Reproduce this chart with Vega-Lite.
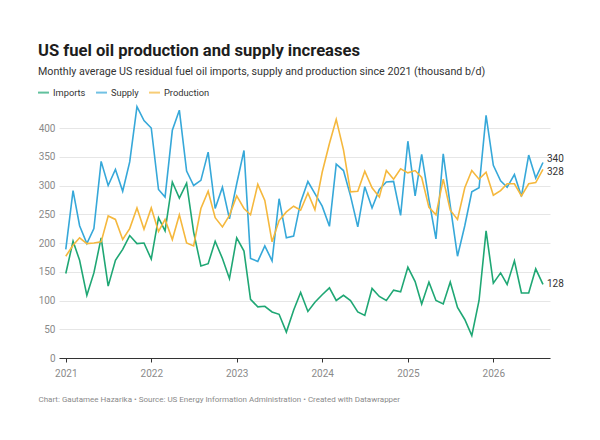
{
  "$schema": "https://vega.github.io/schema/vega-lite/v6.json",
  "autosize": {"type": "none"},
  "width": 491,
  "height": 253,
  "padding": {"left": 59, "top": 105, "right": 50, "bottom": 82},
  "background": "white",
  "config": {
    "font": "Roboto",
    "view": {"stroke": null}
  },
  "title": {
    "text": "US fuel oil production and supply increases",
    "subtitle": "Monthly average US residual fuel oil imports, supply and production since 2021 (thousand b/d)",
    "anchor": "start",
    "frame": "group",
    "dx": -21,
    "offset": 9,
    "fontSize": 16.6,
    "fontWeight": 700,
    "color": "#1d1d1d",
    "subtitleFontSize": 10.7,
    "subtitleColor": "#333333",
    "subtitlePadding": 8
  },
  "data": {
    "values": [
      {"date": "2021/01/01", "Imports": 147, "Supply": 189, "Production": 177},
      {"date": "2021/02/01", "Imports": 203, "Supply": 291, "Production": 196},
      {"date": "2021/03/01", "Imports": 170, "Supply": 230, "Production": 209},
      {"date": "2021/04/01", "Imports": 109, "Supply": 199, "Production": 199},
      {"date": "2021/05/01", "Imports": 148, "Supply": 225, "Production": 200},
      {"date": "2021/06/01", "Imports": 209, "Supply": 342, "Production": 202},
      {"date": "2021/07/01", "Imports": 125, "Supply": 300, "Production": 247},
      {"date": "2021/08/01", "Imports": 170, "Supply": 328, "Production": 241},
      {"date": "2021/09/01", "Imports": 189, "Supply": 290, "Production": 206},
      {"date": "2021/10/01", "Imports": 213, "Supply": 341, "Production": 225},
      {"date": "2021/11/01", "Imports": 199, "Supply": 437, "Production": 261},
      {"date": "2021/12/01", "Imports": 200, "Supply": 413, "Production": 224},
      {"date": "2022/01/01", "Imports": 172, "Supply": 400, "Production": 261},
      {"date": "2022/02/01", "Imports": 244, "Supply": 293, "Production": 220},
      {"date": "2022/03/01", "Imports": 221, "Supply": 280, "Production": 241},
      {"date": "2022/04/01", "Imports": 306, "Supply": 396, "Production": 206},
      {"date": "2022/05/01", "Imports": 278, "Supply": 431, "Production": 249},
      {"date": "2022/06/01", "Imports": 304, "Supply": 325, "Production": 200},
      {"date": "2022/07/01", "Imports": 219, "Supply": 300, "Production": 195},
      {"date": "2022/08/01", "Imports": 160, "Supply": 309, "Production": 260},
      {"date": "2022/09/01", "Imports": 164, "Supply": 358, "Production": 290},
      {"date": "2022/10/01", "Imports": 203, "Supply": 260, "Production": 244},
      {"date": "2022/11/01", "Imports": 173, "Supply": 297, "Production": 228},
      {"date": "2022/12/01", "Imports": 138, "Supply": 242, "Production": 248},
      {"date": "2023/01/01", "Imports": 209, "Supply": 303, "Production": 282},
      {"date": "2023/02/01", "Imports": 186, "Supply": 361, "Production": 260},
      {"date": "2023/03/01", "Imports": 102, "Supply": 173, "Production": 249},
      {"date": "2023/04/01", "Imports": 89, "Supply": 168, "Production": 302},
      {"date": "2023/05/01", "Imports": 90, "Supply": 195, "Production": 274},
      {"date": "2023/06/01", "Imports": 80, "Supply": 169, "Production": 202},
      {"date": "2023/07/01", "Imports": 76, "Supply": 277, "Production": 239},
      {"date": "2023/08/01", "Imports": 45, "Supply": 209, "Production": 254},
      {"date": "2023/09/01", "Imports": 83, "Supply": 212, "Production": 264},
      {"date": "2023/10/01", "Imports": 114, "Supply": 271, "Production": 257},
      {"date": "2023/11/01", "Imports": 81, "Supply": 307, "Production": 287},
      {"date": "2023/12/01", "Imports": 97, "Supply": 286, "Production": 258},
      {"date": "2024/01/01", "Imports": 110, "Supply": 264, "Production": 323},
      {"date": "2024/02/01", "Imports": 122, "Supply": 229, "Production": 373},
      {"date": "2024/03/01", "Imports": 100, "Supply": 337, "Production": 415},
      {"date": "2024/04/01", "Imports": 109, "Supply": 326, "Production": 362},
      {"date": "2024/05/01", "Imports": 100, "Supply": 282, "Production": 289},
      {"date": "2024/06/01", "Imports": 80, "Supply": 228, "Production": 290},
      {"date": "2024/07/01", "Imports": 74, "Supply": 298, "Production": 325},
      {"date": "2024/08/01", "Imports": 121, "Supply": 261, "Production": 296},
      {"date": "2024/09/01", "Imports": 107, "Supply": 293, "Production": 280},
      {"date": "2024/10/01", "Imports": 100, "Supply": 306, "Production": 326},
      {"date": "2024/11/01", "Imports": 118, "Supply": 307, "Production": 311},
      {"date": "2024/12/01", "Imports": 115, "Supply": 248, "Production": 329},
      {"date": "2025/01/01", "Imports": 158, "Supply": 377, "Production": 322},
      {"date": "2025/02/01", "Imports": 133, "Supply": 282, "Production": 326},
      {"date": "2025/03/01", "Imports": 94, "Supply": 354, "Production": 314},
      {"date": "2025/04/01", "Imports": 132, "Supply": 275, "Production": 262},
      {"date": "2025/05/01", "Imports": 100, "Supply": 207, "Production": 249},
      {"date": "2025/06/01", "Imports": 94, "Supply": 355, "Production": 311},
      {"date": "2025/07/01", "Imports": 132, "Supply": 265, "Production": 257},
      {"date": "2025/08/01", "Imports": 88, "Supply": 177, "Production": 241},
      {"date": "2025/09/01", "Imports": 67, "Supply": 230, "Production": 296},
      {"date": "2025/10/01", "Imports": 39, "Supply": 289, "Production": 326},
      {"date": "2025/11/01", "Imports": 100, "Supply": 296, "Production": 311},
      {"date": "2025/12/01", "Imports": 221, "Supply": 422, "Production": 323},
      {"date": "2026/01/01", "Imports": 130, "Supply": 335, "Production": 283},
      {"date": "2026/02/01", "Imports": 148, "Supply": 308, "Production": 291},
      {"date": "2026/03/01", "Imports": 128, "Supply": 297, "Production": 303},
      {"date": "2026/04/01", "Imports": 169, "Supply": 319, "Production": 303},
      {"date": "2026/05/01", "Imports": 113, "Supply": 281, "Production": 282},
      {"date": "2026/06/01", "Imports": 113, "Supply": 353, "Production": 303},
      {"date": "2026/07/01", "Imports": 155, "Supply": 313, "Production": 305},
      {"date": "2026/08/01", "Imports": 128, "Supply": 340, "Production": 328}
    ]
  },
  "transform": [
    {"fold": ["Imports", "Supply", "Production"], "as": ["series", "value"]}
  ],
  "encoding": {
    "x": {
      "field": "date",
      "type": "temporal",
      "scale": {"domain": [{"year": 2020, "month": 12, "date": 3}, {"year": 2026, "month": 8, "date": 31}]},
      "axis": {
        "format": "%Y",
        "tickCount": {"interval": "year", "step": 1},
        "grid": false,
        "domainColor": "#333333",
        "domainWidth": 1,
        "tickColor": "#333333",
        "tickSize": 4,
        "labelColor": "#8a8a8a",
        "labelFontSize": 10,
        "labelPadding": 6,
        "title": "Chart: Gautamee Hazarika • Source: US Energy Information Administration  • Created with Datawrapper",
        "titleFontSize": 8,
        "titleFontWeight": 400,
        "titleColor": "#8a8a8a",
        "titleAnchor": "start",
        "titleAlign": "left",
        "titleBaseline": "alphabetic",
        "titleX": -21,
        "titleY": 43
      }
    },
    "y": {
      "field": "value",
      "type": "quantitative",
      "scale": {"domain": [0, 440], "nice": false},
      "axis": {
        "values": [0, 50, 100, 150, 200, 250, 300, 350, 400],
        "title": null,
        "domain": false,
        "ticks": false,
        "gridColor": "#e6e6e6",
        "gridWidth": 1,
        "labelColor": "#8a8a8a",
        "labelFontSize": 10,
        "labelPadding": 4
      }
    },
    "color": {
      "field": "series",
      "type": "nominal",
      "scale": {
        "domain": ["Imports", "Supply", "Production"],
        "range": ["#1fa774", "#36a8d9", "#f5b83d"]
      },
      "legend": {
        "title": null,
        "orient": "none",
        "legendX": -22,
        "legendY": -19,
        "direction": "horizontal",
        "symbolType": "stroke",
        "symbolSize": 120,
        "symbolStrokeWidth": 2,
        "symbolOpacity": 0.7,
        "labelFontSize": 9.3,
        "labelColor": "#333333",
        "columnPadding": 6,
        "labelOffset": 3
      }
    }
  },
  "layer": [
    {"mark": {"type": "line", "strokeWidth": 1.6}},
    {
      "transform": [{"filter": "datum.series === 'Supply' && month(datum.date) === 7 && year(datum.date) === 2026"}],
      "mark": {"type": "text", "align": "left", "baseline": "middle", "dx": 4, "dy": -4, "fontSize": 10, "color": "#333333"},
      "encoding": {"text": {"field": "value", "type": "quantitative"}, "color": {"value": "#333333"}}
    },
    {
      "transform": [{"filter": "datum.series === 'Production' && month(datum.date) === 7 && year(datum.date) === 2026"}],
      "mark": {"type": "text", "align": "left", "baseline": "middle", "dx": 4, "dy": 3, "fontSize": 10, "color": "#333333"},
      "encoding": {"text": {"field": "value", "type": "quantitative"}, "color": {"value": "#333333"}}
    },
    {
      "transform": [{"filter": "datum.series === 'Imports' && month(datum.date) === 7 && year(datum.date) === 2026"}],
      "mark": {"type": "text", "align": "left", "baseline": "middle", "dx": 4, "fontSize": 10, "color": "#333333"},
      "encoding": {"text": {"field": "value", "type": "quantitative"}, "color": {"value": "#333333"}}
    }
  ]
}
